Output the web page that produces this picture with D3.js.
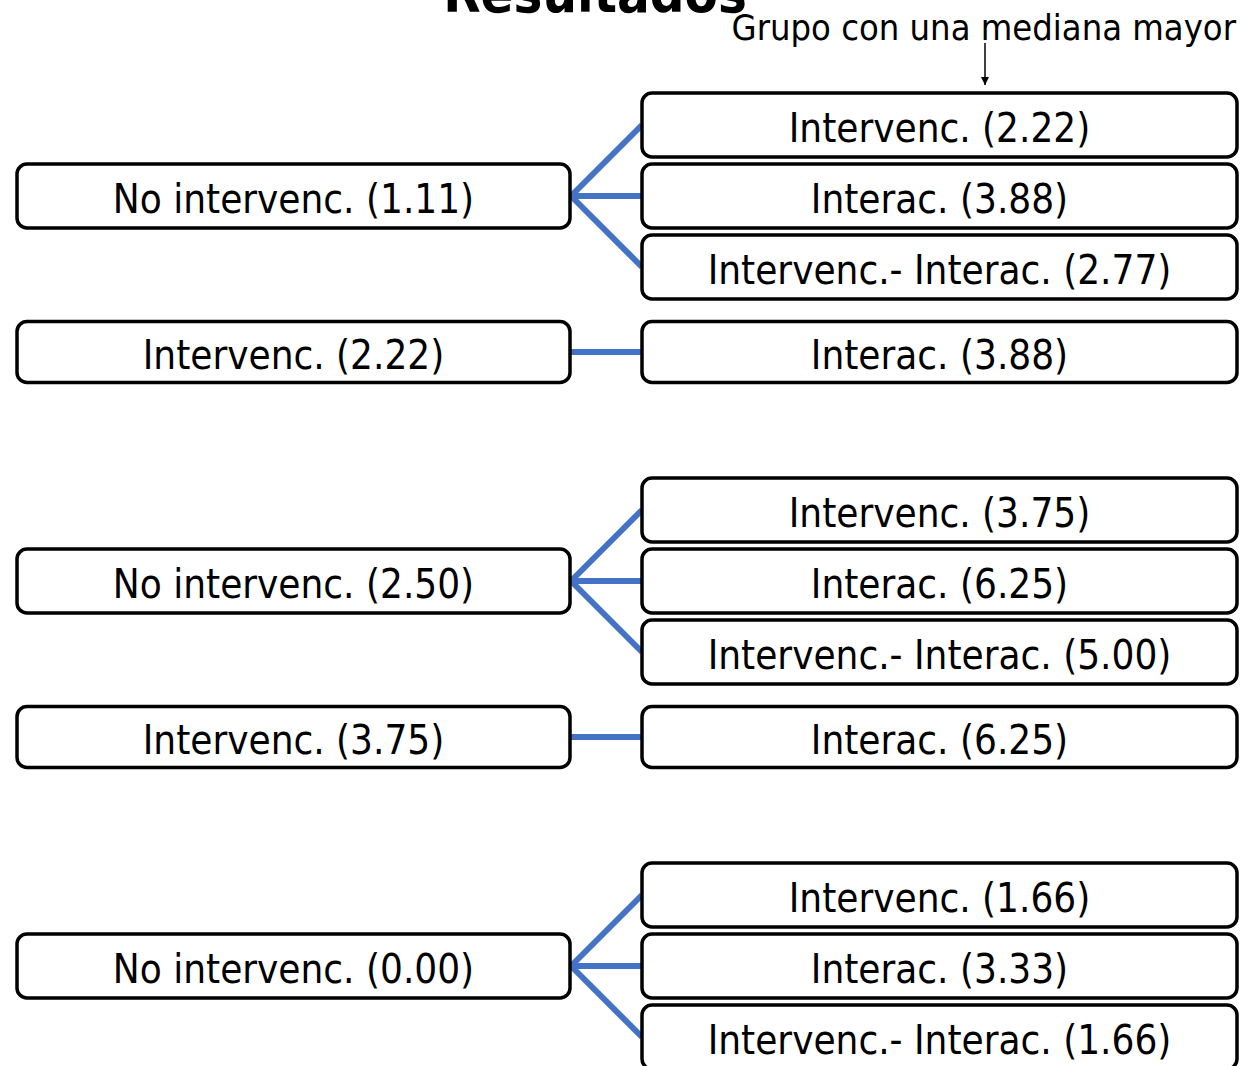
<!DOCTYPE html>
<html><head><meta charset="utf-8">
<script src="https://cdn.jsdelivr.net/npm/d3@7"></script>
<style>html,body{margin:0;padding:0;background:#fff;overflow:hidden}</style>
</head><body>
<svg id="c" width="1242" height="1066"></svg>
<script>
// ---- data ----
const titleText = "Resultados";
const annotationText = "Grupo con una mediana mayor";
const fanRootLabel = "No intervenc.";
const fanRootValues = [1.11, 2.50, 0.00];
const fanTargetLabels = ["Intervenc.", "Interac.", "Intervenc.- Interac."];
const fanTargetValues = [[2.22, 3.88, 2.77], [3.75, 6.25, 5.00], [1.66, 3.33, 1.66]];
const pairLeftLabel = "Intervenc.";
const pairLeftValues = [2.22, 3.75];
const pairRightLabel = "Interac.";
const pairRightValues = [3.88, 6.25];
const groupsShown = [0, 1, 2];

const FONT = "'Liberation Sans Narrow', 'DejaVu Sans Condensed', 'Open Sans', sans-serif";
const BLUE = "#4472C4";
const svg = d3.select("#c");
const fmt = d3.format(".2f");

// scales
const groupY = d3.scaleLinear().domain([0, 2]).range([125, 895]);   // center of first fan target
const slotY = d3.scaleLinear().domain([0, 1]).range([0, 71]);        // slot offset within group
const colX = d3.scaleOrdinal().domain(["left", "right"]).range([17, 642]);
const colW = d3.scaleOrdinal().domain(["left", "right"]).range([553, 595]);
const boxH = 64, pairH = 61, pairOffset = 227;

function box(g, col, cy, h, text) {
  const x = colX(col), w = colW(col);
  g.append("rect").attr("x", x).attr("y", cy - h / 2).attr("width", w).attr("height", h)
    .attr("rx", 10).attr("ry", 10).attr("fill", "#fff").attr("stroke", "#000").attr("stroke-width", 3.5);
  g.append("text").attr("x", x + w / 2).attr("y", cy + 17).attr("text-anchor", "middle")
    .attr("font-family", FONT).attr("font-size", 40).attr("fill", "#000").text(text);
}

groupsShown.forEach(gi => {
  const g = svg.append("g");
  const base = groupY(gi);
  const rootY = base + slotY(1);
  const lx = colX("left") + colW("left"), rx = colX("right");
  // fan lines
  fanTargetValues[gi].forEach((v, i) => {
    g.append("line").attr("x1", lx + 1).attr("y1", rootY).attr("x2", rx)
      .attr("y2", base + slotY(i)).attr("stroke", BLUE).attr("stroke-width", 6);
  });
  box(g, "left", rootY, boxH, `${fanRootLabel} (${fmt(fanRootValues[gi])})`);
  fanTargetValues[gi].forEach((v, i) => {
    box(g, "right", base + slotY(i), boxH, `${fanTargetLabels[i]} (${fmt(v)})`);
  });
  if (gi < pairLeftValues.length) {
    const py = base + pairOffset;
    g.append("line").attr("x1", lx).attr("y1", py).attr("x2", rx).attr("y2", py)
      .attr("stroke", BLUE).attr("stroke-width", 6);
    box(g, "left", py, pairH, `${pairLeftLabel} (${fmt(pairLeftValues[gi])})`);
    box(g, "right", py, pairH, `${pairRightLabel} (${fmt(pairRightValues[gi])})`);
  }
});

// title
svg.append("text").attr("x", 595).attr("y", 12).attr("text-anchor", "middle")
  .attr("font-family", FONT).attr("font-weight", "bold").attr("font-size", 54).text(titleText);
// annotation
svg.append("text").attr("x", 1236).attr("y", 40).attr("text-anchor", "end")
  .attr("font-family", FONT).attr("font-size", 36).text(annotationText);
svg.append("defs").append("marker").attr("id", "ah").attr("viewBox", "0 0 10 10")
  .attr("refX", 10).attr("refY", 5).attr("markerWidth", 8).attr("markerHeight", 10)
  .attr("markerUnits", "userSpaceOnUse").attr("orient", "auto")
  .append("path").attr("d", "M0,0L10,5L0,10Z").attr("fill", "#000");
svg.append("line").attr("x1", 985).attr("y1", 43).attr("x2", 985).attr("y2", 85)
  .attr("stroke", "#000").attr("stroke-width", 1.5).attr("marker-end", "url(#ah)");
</script>
</body></html>
